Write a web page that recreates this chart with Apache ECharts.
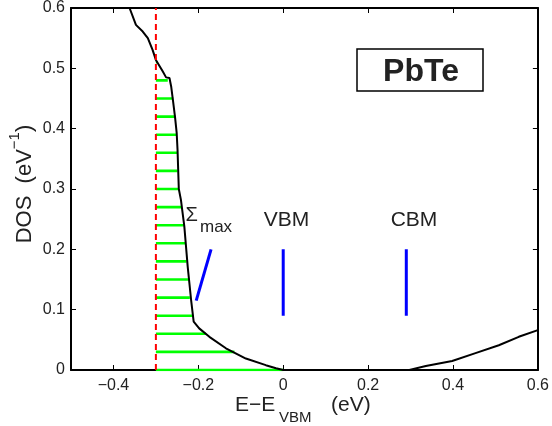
<!DOCTYPE html>
<html><head><meta charset="utf-8">
<script src="https://cdn.jsdelivr.net/npm/echarts@6/dist/echarts.min.js"></script>
<style>html,body{margin:0;padding:0;background:#fff}#c{width:552px;height:426px}</style>
</head><body><div id="c"></div>
<script>
// DOS curve (E - E_VBM in eV, DOS in eV^-1)
const dosX = [-0.362,-0.347,-0.331,-0.319,-0.308,-0.300,-0.284,-0.276,-0.268,-0.264,-0.260,-0.255,-0.251,-0.249,-0.246,-0.241,-0.233,-0.225,-0.217,-0.211,-0.198,-0.174,-0.135,-0.088,-0.041,-0.017,0.000,0.297,0.336,0.398,0.453,0.508,0.555,0.600];
const dosY = [0.600,0.572,0.561,0.550,0.531,0.514,0.495,0.485,0.484,0.470,0.448,0.420,0.393,0.365,0.300,0.282,0.238,0.171,0.116,0.080,0.069,0.055,0.036,0.019,0.008,0.003,0.000,0.000,0.0066,0.015,0.028,0.041,0.055,0.066];
// green fill levels and where they meet the curve
const fillLevels = [0,0.03,0.06,0.09,0.12,0.15,0.18,0.21,0.24,0.27,0.30,0.33,0.36,0.39,0.42,0.45,0.48,0.51];
const fillEnds   = [0.0,-0.115,-0.182,-0.212,-0.220,-0.221,-0.228,-0.231,-0.234,-0.239,-0.246,-0.249,-0.250,-0.252,-0.254,-0.259,-0.272,-0.296];
const cutoffX = -0.3;
const cutoffY = [0, 0.6];
const vbmX = 0.0;
const cbmX = 0.29;
const markerY = [0.09, 0.2];
const sigmaSegX = [-0.205, -0.17];
const sigmaSegY = [0.115, 0.2];
const xTicks = [-0.4,-0.2,0,0.2,0.4,0.6];
const yTicks = [0,0.1,0.2,0.3,0.4,0.5,0.6];

const FONT = '"Liberation Sans", Arial, Helvetica, sans-serif';
const TXT = '#222';
const fmtX = v => v === 0 ? '0' : (v < 0 ? '\u2212' + Math.abs(v).toFixed(1) : v.toFixed(1));
const fmtY = v => v === 0 ? '0' : v.toFixed(1);

const ctx = document.createElement('canvas').getContext('2d');
function tw(t, size, bold){ ctx.font = (bold?'bold ':'') + size + 'px "Liberation Sans"'; return ctx.measureText(t).width; }

const series = [];
fillLevels.forEach((lv, i) => {
  series.push({type:'line', xAxisIndex:0, yAxisIndex:0, symbol:'none', silent:true, z:2,
    lineStyle:{color:'#00ff00', width:2.6}, data:[[cutoffX, lv],[fillEnds[i], lv]]});
});
series.push({type:'line', symbol:'none', z:3, lineStyle:{color:'#000', width:2},
  data: dosX.map((x,i)=>[x, dosY[i]])});
series.push({type:'line', symbol:'none', z:4, lineStyle:{color:'#ff0000', width:2, type:[6,4]},
  data: cutoffY.map(y=>[cutoffX, y])});
series.push({type:'line', symbol:'none', z:4, lineStyle:{color:'#0000ff', width:3},
  data: markerY.map(y=>[vbmX, y])});
series.push({type:'line', symbol:'none', z:4, lineStyle:{color:'#0000ff', width:3},
  data: markerY.map(y=>[cbmX, y])});
series.push({type:'line', symbol:'none', z:4, lineStyle:{color:'#0000ff', width:3},
  data: sigmaSegX.map((x,i)=>[x, sigmaSegY[i]])});

const axisLine = {show:true, onZero:false, lineStyle:{color:'#000', width:2}};
const chart = echarts.init(document.getElementById('c'), null, {renderer:'canvas'});

// y-axis title pieces (rotated)
const yl1 = 'DOS  (eV', ylFs = 22, supFs = 15;
const w1 = tw(yl1, ylFs), wSup = tw('\u22121', supFs), wPar = tw(')', ylFs);
const ylTotal = w1 + wSup + wPar;
const ylStart = 184 + ylTotal/2;

chart.setOption({
  animation:false,
  backgroundColor:'#fff',
  grid:{left:71, right:13, top:8, bottom:56, containLabel:false},
  xAxis:[
    {type:'value', min:-0.5, max:0.6, position:'bottom', axisLine,
     axisTick:{show:true, inside:true, length:5, customValues:xTicks, lineStyle:{color:'#000', width:1}},
     axisLabel:{customValues:xTicks, formatter:fmtX, fontSize:16, color:TXT, fontFamily:FONT, margin:8},
     splitLine:{show:false}},
    {type:'value', min:-0.5, max:0.6, position:'top', axisLine,
     axisTick:{show:true, inside:true, length:5, customValues:xTicks, lineStyle:{color:'#000', width:1}},
     axisLabel:{show:false}, splitLine:{show:false}}
  ],
  yAxis:[
    {type:'value', min:0, max:0.6, interval:0.1, position:'left', axisLine,
     axisTick:{show:true, inside:true, length:5, lineStyle:{color:'#000', width:1}},
     axisLabel:{formatter:fmtY, fontSize:16, color:TXT, fontFamily:FONT, margin:6},
     splitLine:{show:false}},
    {type:'value', min:0, max:0.6, interval:0.1, position:'right', axisLine,
     axisTick:{show:true, inside:true, length:5, lineStyle:{color:'#000', width:1}},
     axisLabel:{show:false}, splitLine:{show:false}}
  ],
  series,
  graphic:[
    {type:'rect', shape:{x:357, y:49, width:126, height:42}, style:{fill:'#fff', stroke:'#000', lineWidth:1.5}, z:10},
    {type:'text', x:421, y:72, style:{text:'PbTe', font:'bold 32px ' + FONT, fill:'#222', align:'center', verticalAlign:'middle'}, z:11},
    {type:'text', x:286.5, y:220, style:{text:'VBM', font:'21px ' + FONT, fill:TXT, align:'center', verticalAlign:'middle'}, z:11},
    {type:'text', x:414, y:220, style:{text:'CBM', font:'21px ' + FONT, fill:TXT, align:'center', verticalAlign:'middle'}, z:11},
    {type:'text', x:185.5, y:215, style:{text:'\u03A3', font:'20px ' + FONT, fill:TXT, align:'left', verticalAlign:'middle'}, z:11},
    {type:'text', x:200, y:227, style:{text:'max', font:'17px ' + FONT, fill:TXT, align:'left', verticalAlign:'middle'}, z:11},
    // x-axis title
    {type:'text', x:235, y:405, style:{text:'E\u2212E', font:'21px ' + FONT, fill:TXT, align:'left', verticalAlign:'middle'}, z:11},
    {type:'text', x:279, y:417.5, style:{text:'VBM', font:'15px ' + FONT, fill:TXT, align:'left', verticalAlign:'middle'}, z:11},
    {type:'text', x:331, y:405, style:{text:'(eV)', font:'21px ' + FONT, fill:TXT, align:'left', verticalAlign:'middle'}, z:11},
    // y-axis title, rotated
    {type:'group', x:33, y:ylStart, rotation:Math.PI/2, z:11, children:[
      {type:'text', x:0, y:-7.7, style:{text:yl1, font:ylFs+'px ' + FONT, fill:TXT, align:'left', verticalAlign:'middle'}},
      {type:'text', x:w1, y:-18, style:{text:'\u22121', font:supFs+'px ' + FONT, fill:TXT, align:'left', verticalAlign:'middle'}},
      {type:'text', x:w1 + wSup, y:-7.7, style:{text:')', font:ylFs+'px ' + FONT, fill:TXT, align:'left', verticalAlign:'middle'}}
    ]}
  ]
});
</script>
</body></html>
